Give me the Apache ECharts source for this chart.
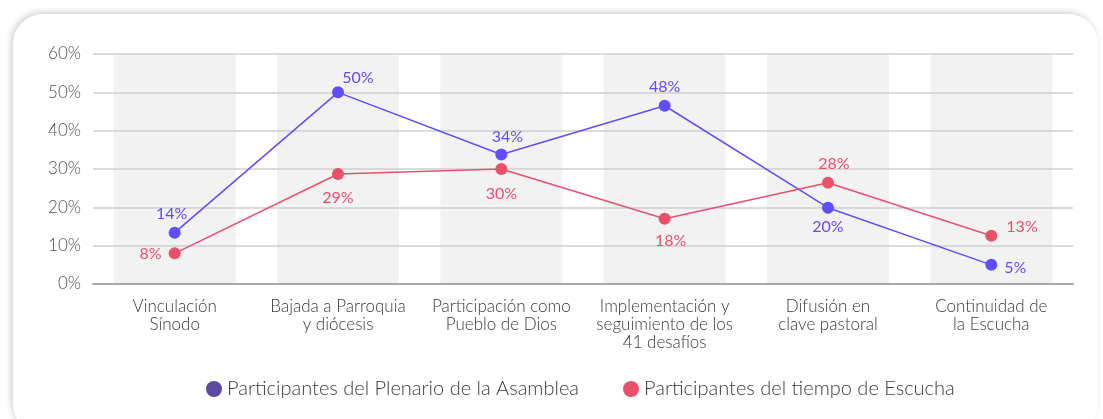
<!DOCTYPE html>
<html>
<head>
<meta charset="utf-8">
<script src="https://cdn.jsdelivr.net/npm/echarts@6/dist/echarts.min.js"></script>
<style>
  html, body { margin: 0; padding: 0; background: #ffffff; width: 1103px; height: 419px; overflow: hidden; }
  #card { position: absolute; left: 13px; top: 14px; width: 1085px; height: 420px; border-radius: 30px; background: #fff;
          box-shadow: -2px -2px 6px rgba(0,0,0,0.18); }
  #chart { position: absolute; left: 0; top: 0; width: 1103px; height: 419px; }
</style>
</head>
<body>
<div id="card"></div>
<div id="chart"></div>
<script>
const categories = [
  "Vinculación\nSínodo",
  "Bajada a Parroquia\ny diócesis",
  "Participación como\nPueblo de Dios",
  "Implementación y\nseguimiento de los\n41 desafíos",
  "Difusión en\nclave pastoral",
  "Continuidad de\nla Escucha"
];
const seriesNames = ["Participantes del Plenario de la Asamblea", "Participantes del tiempo de Escucha"];
const plenarioValues = [0.134, 0.50, 0.338, 0.465, 0.199, 0.05];
const plenarioLabels = ["14%", "50%", "34%", "48%", "20%", "5%"];
const escuchaValues = [0.08, 0.287, 0.30, 0.17, 0.264, 0.126];
const escuchaLabels = ["8%", "29%", "30%", "18%", "28%", "13%"];
const bandValues = [0, 0, 0, 0, 0, 0];

const FONT = "Lato";
const BLUE = "#5f4dff";
const RED = "#e9506a";

const plenarioPos = [
  { position: "top", offset: [-3, 0] },
  { position: "top", offset: [20, 5] },
  { position: "top", offset: [6, 1] },
  { position: "top", offset: [0, 0] },
  { position: "bottom", offset: [0, 0] },
  { position: "right", offset: [2, 3] }
];
const escuchaPos = [
  { position: "left", offset: [-2, 1] },
  { position: "bottom", offset: [0, 5] },
  { position: "bottom", offset: [0, 6] },
  { position: "bottom", offset: [6, 3] },
  { position: "top", offset: [6, 0] },
  { position: "right", offset: [4, -9] }
];

function buildData(values, labels, pos) {
  return values.map((v, i) => ({
    value: v,
    label: Object.assign({ formatter: labels[i] }, pos[i])
  }));
}

const chart = echarts.init(document.getElementById("chart"));
chart.setOption({
  animation: false,
  textStyle: { fontFamily: FONT },
  grid: { left: 93, right: 30, top: 54, bottom: 135 },
  xAxis: {
    type: "category",
    data: categories,
    boundaryGap: true,
    axisLine: { show: true, lineStyle: { color: "#a8a8a8", width: 2 } },
    axisTick: { show: false },
    axisLabel: { color: "#3a3a3a", fontSize: 17, fontWeight: 300, lineHeight: 18, margin: 14, fontFamily: FONT, interval: 0 }
  },
  yAxis: {
    type: "value",
    min: 0, max: 0.6, interval: 0.1,
    axisLine: { show: false },
    axisTick: { show: false },
    axisLabel: { color: "#505050", fontSize: 17, fontWeight: 300, margin: 12, fontFamily: FONT,
      formatter: v => Math.round(v * 100) + "%" },
    splitLine: { lineStyle: { color: "#cfcfcf", width: 1.5 } }
  },
  legend: {
    left: 201,
    top: 374,
    itemGap: 44,
    icon: "circle",
    itemWidth: 16,
    itemHeight: 16,
    textStyle: { color: "#3a3a3a", fontSize: 20, fontWeight: 300, fontFamily: FONT },
    data: [
      { name: seriesNames[0], itemStyle: { color: "#5b4aa0" } },
      { name: seriesNames[1], itemStyle: { color: "#ea5068" } }
    ]
  },
  series: [
    {
      type: "bar",
      name: "bands",
      data: bandValues,
      barWidth: 122,
      showBackground: true,
      backgroundStyle: { color: "#f2f2f2" },
      itemStyle: { color: "transparent" },
      silent: true,
      z: -1
    },
    {
      type: "line",
      name: seriesNames[0],
      data: buildData(plenarioValues, plenarioLabels, plenarioPos),
      color: BLUE,
      symbol: "circle",
      symbolSize: 12,
      lineStyle: { width: 1.5, color: BLUE },
      itemStyle: { color: BLUE },
      label: { show: true, color: BLUE, fontSize: 16, fontFamily: FONT },
      z: 3
    },
    {
      type: "line",
      name: seriesNames[1],
      data: buildData(escuchaValues, escuchaLabels, escuchaPos),
      color: RED,
      symbol: "circle",
      symbolSize: 12,
      lineStyle: { width: 1.5, color: RED },
      itemStyle: { color: RED },
      label: { show: true, color: RED, fontSize: 16, fontFamily: FONT },
      z: 3
    }
  ]
});
</script>
</body>
</html>
